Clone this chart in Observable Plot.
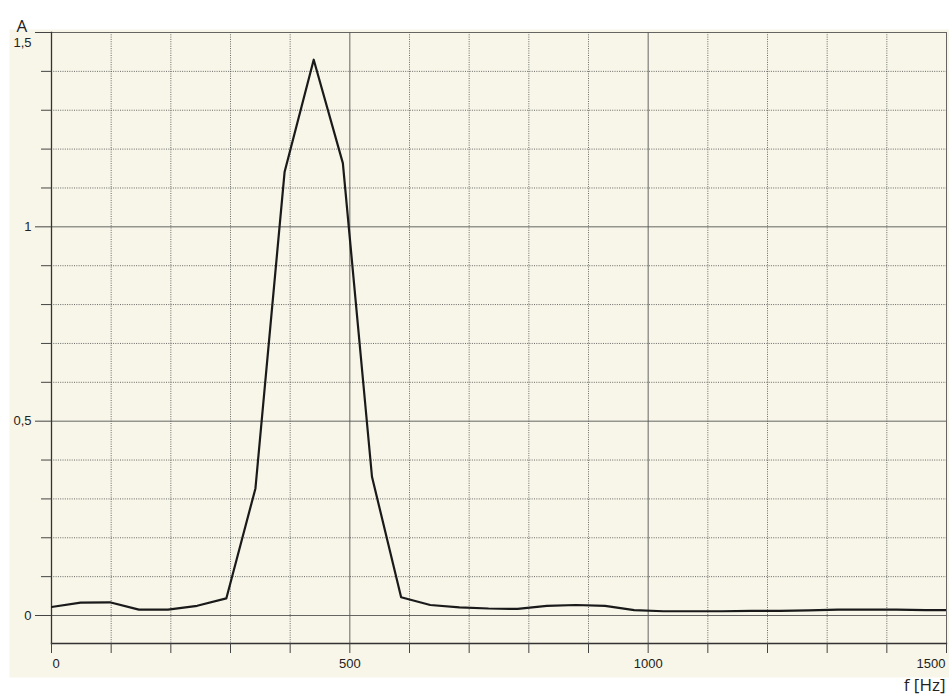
<!DOCTYPE html>
<html>
<head>
<meta charset="utf-8">
<script src="https://cdn.jsdelivr.net/npm/d3@7"></script>
<script src="https://cdn.jsdelivr.net/npm/@observablehq/plot@0.6"></script>
<style>
  html, body { margin: 0; padding: 0; background: #ffffff; }
  #chart { width: 949px; height: 700px; }
</style>
</head>
<body>
<div id="chart"></div>
<script>
// Spectrum: amplitude A vs. frequency f (Hz), bins every ~48.83 Hz
const binWidth = 48.83;
const amplitudes = [
  0.022, 0.033, 0.034, 0.015, 0.015, 0.025, 0.044, 0.327,
  1.141, 1.430, 1.164, 0.357, 0.047, 0.027, 0.021, 0.018,
  0.017, 0.025, 0.027, 0.025, 0.014, 0.011, 0.011, 0.011,
  0.012, 0.012, 0.013, 0.015, 0.015, 0.015, 0.014, 0.014
];
const frequencies = amplitudes.map((_, i) => i * binWidth);

const xDomain = [0, 1500];
const yDomain = [-0.072, 1.5];
const xGridMinor = [100, 200, 300, 400, 600, 700, 800, 900, 1100, 1200, 1300, 1400];
const xGridMajor = [500, 1000, 1500];
const xTicks = [0, 100, 200, 300, 400, 500, 600, 700, 800, 900, 1000, 1100, 1200, 1300, 1400, 1500];
const xLabelsFirst = [0];
const xLabelsMiddle = [500, 1000];
const xLabelsLast = [1500];
const yGridMinor = [0.1, 0.2, 0.3, 0.4, 0.6, 0.7, 0.8, 0.9, 1.1, 1.2, 1.3, 1.4];
const yGridMajor = [0, 0.5, 1, 1.5];
const yTickLabels = [0, 0.5, 1];
const yTopLabel = [1.5];
const yLabel = "A";
const xLabel = "f [Hz]";

const data = frequencies.map((f, i) => ({f, a: amplitudes[i]}));
const fmt = d => String(d).replace(".", ",");
const font = "Liberation Sans, Arial, sans-serif";
const labelStyle = {fontSize: 13, fill: "#222"};

const chart = Plot.plot({
  width: 949,
  height: 700,
  marginLeft: 51,
  marginRight: 3,
  marginTop: 32,
  marginBottom: 57,
  style: {background: "#ffffff", fontFamily: font, fontSize: "13px", color: "#222"},
  x: {domain: xDomain, axis: null},
  y: {domain: yDomain, axis: null},
  marks: [
    // cream paper background
    Plot.frame({fill: "#f8f6e9", stroke: null, insetLeft: -42, insetTop: -3, insetRight: -3, insetBottom: -34}),
    // dotted minor grid
    Plot.gridX(xGridMinor, {stroke: "#444", strokeOpacity: 0.8, strokeDasharray: "1,1.3", strokeWidth: 1}),
    Plot.gridY(yGridMinor, {stroke: "#444", strokeOpacity: 0.8, strokeDasharray: "1,1.3", strokeWidth: 1}),
    // solid major grid
    Plot.gridX(xGridMajor, {stroke: "#555", strokeOpacity: 0.9, strokeWidth: 1}),
    Plot.gridY(yGridMajor, {stroke: "#555", strokeOpacity: 0.9, strokeWidth: 1}),
    // frame left & bottom
    Plot.frame({anchor: "left", stroke: "#333", strokeWidth: 1.3}),
    Plot.frame({anchor: "bottom", stroke: "#333", strokeWidth: 1.3}),
    // ticks
    Plot.axisX(xTicks, {anchor: "bottom", label: null, tickSize: 10, tickFormat: () => "", stroke: "#444"}),
    Plot.axisY(yGridMinor, {anchor: "left", label: null, tickSize: 10, tickFormat: () => "", stroke: "#444"}),
    Plot.axisY(yGridMajor, {anchor: "left", label: null, tickSize: 16, tickFormat: () => "", stroke: "#444"}),
    // tick labels
    Plot.text(xLabelsFirst, {x: d => d, frameAnchor: "bottom", dy: 24, dx: 1, textAnchor: "start", text: d => fmt(d), ...labelStyle}),
    Plot.text(xLabelsMiddle, {x: d => d, frameAnchor: "bottom", dy: 24, textAnchor: "middle", text: d => fmt(d), ...labelStyle}),
    Plot.text(xLabelsLast, {x: d => d, frameAnchor: "bottom", dy: 24, dx: -1, textAnchor: "end", text: d => fmt(d), ...labelStyle}),
    Plot.text(yTickLabels, {y: d => d, frameAnchor: "left", dx: -20, textAnchor: "end", text: d => fmt(d), ...labelStyle}),
    Plot.text(yTopLabel, {y: d => d, frameAnchor: "left", dx: -20, dy: 10, textAnchor: "end", text: d => fmt(d), ...labelStyle}),
    // axis titles
    Plot.text([yLabel], {frameAnchor: "top-left", dx: -35, dy: -13, textAnchor: "start",
      fontSize: 17, fontFamily: "Open Sans, sans-serif", fill: "#222"}),
    Plot.text([xLabel], {frameAnchor: "bottom-right", dx: -1, dy: 47, textAnchor: "end",
      fontSize: 17, fontFamily: "Open Sans, sans-serif", fill: "#222"}),
    // data line
    Plot.line(data, {x: "f", y: "a", stroke: "#1a1a1a", strokeWidth: 2.2, clip: true})
  ]
});
document.getElementById("chart").appendChild(chart);
</script>
</body>
</html>
